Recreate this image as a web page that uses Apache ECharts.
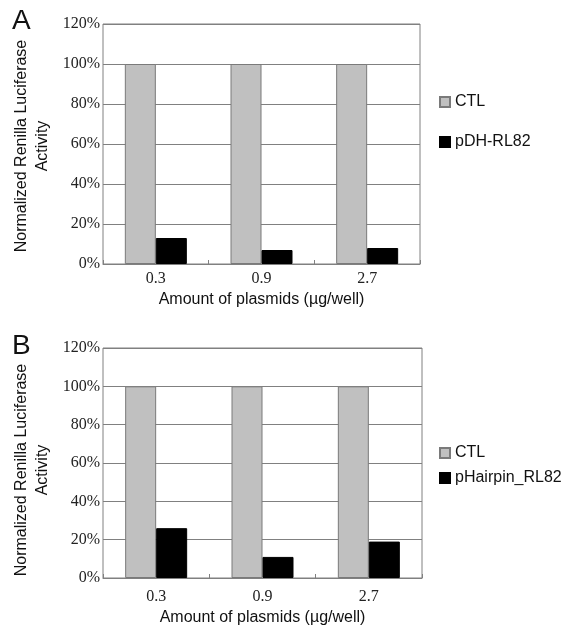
<!DOCTYPE html>
<html>
<head>
<meta charset="utf-8">
<script src="https://cdn.jsdelivr.net/npm/echarts@6/dist/echarts.min.js"></script>
<style>
  html, body { margin: 0; padding: 0; background: #fff; }
  #chart { width: 566px; height: 629px; }
</style>
</head>
<body>
<div id="chart"></div>
<script>
// 数据
var doses = ['0.3', '0.9', '2.7'];
var ctlA = [100, 100, 100];
var pdhA = [13, 7, 8];
var ctlB = [100, 100, 100];
var hairpinB = [26, 11, 19];
var yTicks = [0, 20, 40, 60, 80, 100, 120];

var sans = 'Liberation Sans, Arial, sans-serif';
var serif = 'Liberation Serif, Times New Roman, serif';
var lineGray = '#808080';

var chart = echarts.init(document.getElementById('chart'));

//坐标轴
function xAxisFor(gridIndex, nameGap, labelMargin) {
    return {
        type: 'category',
        gridIndex: gridIndex,
        data: doses,
        name: 'Amount of plasmids (\u00b5g/well)',
        nameLocation: 'middle',
        nameGap: nameGap,
        nameMoveOverlap: false,
        nameTextStyle: { fontFamily: sans, fontSize: 16, color: '#111' },
        axisLine: { lineStyle: { color: lineGray, width: 1 } },
        axisTick: { show: true, inside: true, length: 4, lineStyle: { color: lineGray } },
        axisLabel: { fontFamily: serif, fontSize: 16, color: '#222', margin: labelMargin }
    };
}

function yAxisFor(gridIndex, shift) {
    return {
        type: 'value',
        gridIndex: gridIndex,
        min: 0,
        max: 120,
        interval: 20,
        name: 'Normalized Renilla Luciferase\nActivity',
        nameLocation: 'middle',
        nameRotate: 90,
        nameGap: 50,
        nameMoveOverlap: false,
        nameTextStyle: {
            fontFamily: sans, fontSize: 16, color: '#111', lineHeight: 21,
            padding: [0, shift, 0, 0]
        },
        axisLine: { show: false },
        axisTick: { show: false },
        splitLine: { show: true, lineStyle: { color: lineGray, width: 1 } },
        axisLabel: {
            fontFamily: serif, fontSize: 16, color: '#222', margin: 3,
            formatter: function(v) {
                return yTicks.indexOf(v) >= 0 ? v + '%' : '';
            }
        }
    };
}

function barSeries(name, data, idx, color, border) {
    return {
        name: name,
        type: 'bar',
        xAxisIndex: idx,
        yAxisIndex: idx,
        data: data,
        barWidth: 31,
        barGap: '0%',
        itemStyle: { color: color, borderColor: border, borderWidth: 1 },
        emphasis: { disabled: true }
    };
}

var option = {
    animation: false,
    backgroundColor: '#fff',
    grid: [
        { left: 103, top: 24, width: 317, height: 240, show: true, borderColor: lineGray, borderWidth: 1 },
        { left: 103, top: 348, width: 319, height: 230, show: true, borderColor: lineGray, borderWidth: 1 }
    ],
    xAxis: [xAxisFor(0, 28, 7), xAxisFor(1, 32, 11)],
    yAxis: [yAxisFor(0, 4), yAxisFor(1, 14)],
    legend: [
        {
            orient: 'vertical', left: 434, top: 89, itemWidth: 10, itemHeight: 10, itemGap: 24,
            data: ['CTL', 'pDH-RL82'],
            textStyle: { fontFamily: sans, fontSize: 16, color: '#111' },
            icon: 'rect'
        },
        {
            orient: 'vertical', left: 434, top: 440, itemWidth: 10, itemHeight: 10, itemGap: 9,
            data: ['CTL ', 'pHairpin_RL82'],
            textStyle: { fontFamily: sans, fontSize: 16, color: '#111' },
            icon: 'rect'
        }
    ],
    graphic: [
        { type: 'text', left: 12, top: 7, style: { text: 'A', font: '28px ' + sans, fill: '#111' } },
        { type: 'text', left: 12, top: 332, style: { text: 'B', font: '28px ' + sans, fill: '#111' } }
    ],
    series: [
        barSeries('CTL', ctlA, 0, '#c0c0c0', '#7a7a7a'),
        barSeries('pDH-RL82', pdhA, 0, '#000', '#000'),
        barSeries('CTL ', ctlB, 1, '#c0c0c0', '#7a7a7a'),
        barSeries('pHairpin_RL82', hairpinB, 1, '#000', '#000')
    ]
};

chart.setOption(option);
</script>
</body>
</html>
